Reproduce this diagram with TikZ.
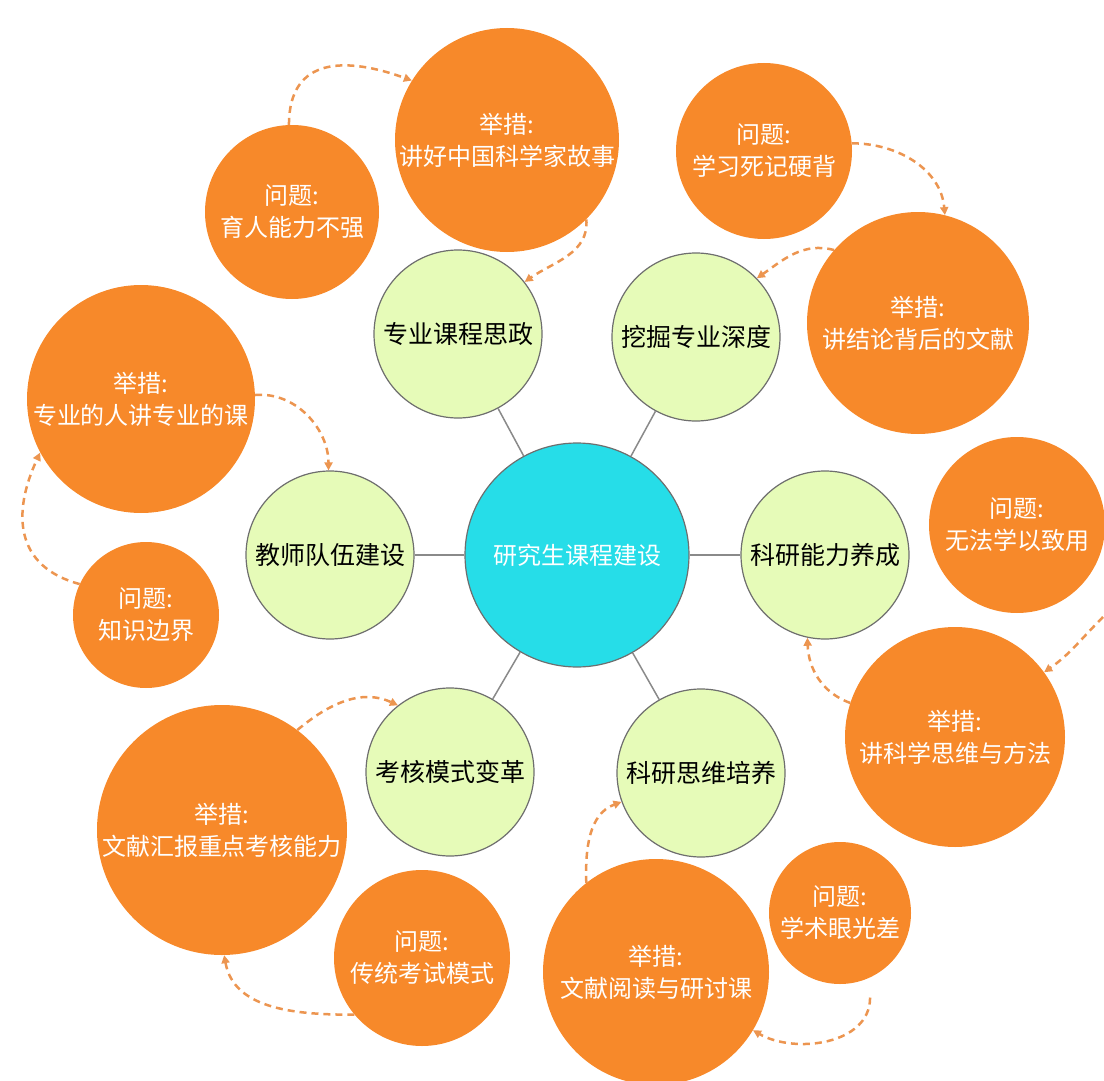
\documentclass[tikz,border=0pt]{standalone}
\usepackage{fontspec}
\newfontfamily\cjk{Noto Sans CJK SC}
\usetikzlibrary{arrows.meta}
\definecolor{orgc}{HTML}{F7892A}
\definecolor{arrc}{HTML}{EC9550}
\definecolor{grnc}{HTML}{E6FBB8}
\definecolor{cync}{HTML}{26DDE8}
\definecolor{edgec}{HTML}{6E6E6E}
\definecolor{linkc}{HTML}{8A8A8A}
\begin{document}
\begin{tikzpicture}[x=1pt,y=1pt,
  base/.style={circle, inner sep=0pt, align=center},
  orgnode/.style={base, fill=orgc, text=white, font=\cjk\fontsize{24}{32}\selectfont},
  grnnode/.style={base, fill=grnc, draw=edgec, line width=1.2pt, text=black, minimum size=168pt, font=\cjk\fontsize{25}{30}\selectfont},
  ctrnode/.style={base, fill=cync, draw=edgec, line width=1.2pt, text=white, minimum size=224pt, font=\cjk\fontsize{24}{30}\selectfont},
  link/.style={draw=linkc, line width=1.5pt},
  darr/.style={draw=arrc, line width=2.5pt, dash pattern=on 7pt off 5pt, -{Triangle[length=8pt,width=8pt]}}
]
\useasboundingbox (0,0) rectangle (1104,-1081);

% center
\node[ctrnode] (c) at (577,-555) {研究生课程建设};

% green
\node[grnnode] (zk) at (458,-334) {专业课程思政};
\node[grnnode] (wj) at (696,-337) {挖掘专业深度};
\node[grnnode] (js) at (330,-555) {教师队伍建设};
\node[grnnode] (ky) at (825,-555) {科研能力养成};
\node[grnnode] (kh) at (450,-772) {考核模式变革};
\node[grnnode] (kw) at (701,-773) {科研思维培养};

\draw[link] (c) -- (zk);
\draw[link] (c) -- (wj);
\draw[link] (c) -- (js);
\draw[link] (c) -- (ky);
\draw[link] (c) -- (kh);
\draw[link] (c) -- (kw);

% orange
\node[orgnode, minimum size=224pt] (jh) at (507,-140) {举措:\\讲好中国科学家故事};
\node[orgnode, minimum size=174pt] (yr) at (292,-212) {问题:\\育人能力不强};
\node[orgnode, minimum size=176pt] (xx) at (764,-151) {问题:\\学习死记硬背};
\node[orgnode, minimum size=222pt] (jl) at (918,-323) {举措:\\讲结论背后的文献};
\node[orgnode, minimum size=228pt] (zy) at (141,-399) {举措:\\专业的人讲专业的课};
\node[orgnode, minimum size=146pt] (zs) at (146,-615) {问题:\\知识边界};
\node[orgnode, minimum size=176pt] (wf) at (1017,-525) {问题:\\无法学以致用};
\node[orgnode, minimum size=220pt] (kx) at (955,-737) {举措:\\讲科学思维与方法};
\node[orgnode, minimum size=250pt] (wx) at (222,-830) {举措:\\文献汇报重点考核能力};
\node[orgnode, minimum size=176pt] (ct) at (422,-958) {问题:\\传统考试模式};
\node[orgnode, minimum size=142pt] (xs) at (840,-913) {问题:\\学术眼光差};
\node[orgnode, minimum size=226pt] (wy) at (656,-972) {举措:\\文献阅读与研讨课};

\coordinate (w7) at (1103,-617);

% dashed arrows
\draw[darr] (yr.92) to[out=90,in=160,looseness=1.35] (jh.148);
\draw[darr] (jh.-45) to[out=-85,in=35] (zk.38);
\draw[darr] (xx.5) to[out=0,in=95] (jl.76);
\draw[darr] (jl.139) to[out=165,in=35] (wj.44);
\draw[darr] (zy.2) to[out=5,in=90] (js.91);
\draw[darr] (zs.155) to[out=165,in=-115,looseness=1.25] (zy.208);
\draw[darr] (w7) to[out=225,in=35] (kx.36);
\draw[darr] (kx.162) to[out=160,in=-88] (ky.-102);
\draw[darr] (wx.53) to[out=40,in=155] (kh.128);
\draw[darr] (ct.220) to[out=180,in=-80] (wx.-89);
\draw[darr] (wy.128) to[out=92,in=200] (kw.200);
\draw[darr] ([yshift=-20pt]xs.-65) to[out=-90,in=-30] (wy.-31);
\end{tikzpicture}
\end{document}
